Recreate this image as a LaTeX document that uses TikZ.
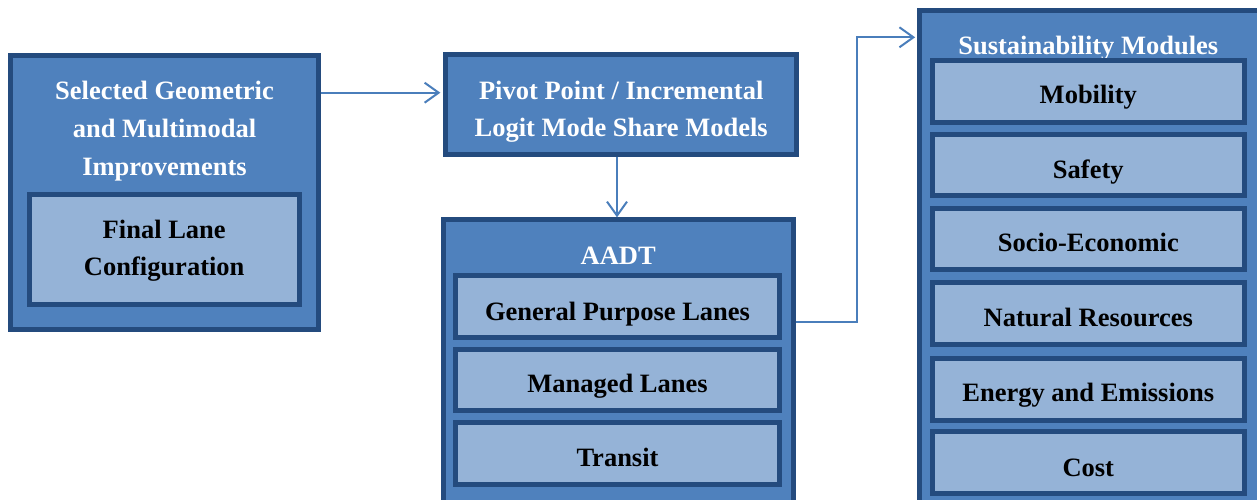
\documentclass[tikz,border=0pt]{standalone}
\usepackage{fontspec}
\setmainfont{Liberation Serif}
\usetikzlibrary{arrows.meta}
\definecolor{bdark}{HTML}{244B7E}
\definecolor{bmid}{HTML}{4F81BD}
\definecolor{blight}{HTML}{95B3D7}
\definecolor{barrow}{HTML}{4A7EBB}
\tikzset{
  outerbox/.style={draw=bdark, fill=bmid, line width=5pt, inner sep=0pt},
  innerbox/.style={draw=bdark, fill=blight, line width=5pt, inner sep=0pt},
  wtxt/.style={text=white, font=\fontsize{26.5}{37.5}\selectfont\bfseries, anchor=base, inner sep=0pt},
  ktxt/.style={text=black, font=\fontsize{26.5}{37.5}\selectfont\bfseries, anchor=base, inner sep=0pt},
  conn/.style={draw=barrow, line width=2pt, -{Straight Barb[length=14pt,width=20pt,line width=2pt]}},
  seg/.style={draw=barrow, line width=2pt}
}
\begin{document}
\begin{tikzpicture}[x=1pt,y=-1pt]
\useasboundingbox (0,0) rectangle (1257,500);
\clip (0,0) rectangle (1257,500);
\fill[white] (0,0) rectangle (1257,500);

% left box
\node[outerbox, minimum width=307.4pt, minimum height=273.7pt] (left) at (164.5,192.7) {};
\node[wtxt] (l1) at (164.5,100) {Selected Geometric};
\node[wtxt] (l2) at (164.5,137.5) {and Multimodal};
\node[wtxt] (l3) at (164.5,175) {Improvements};
\node[innerbox, minimum width=270pt, minimum height=110pt] (final) at (164.2,249.2) {};
\node[ktxt] (f1) at (164.2,238.3) {Final Lane};
\node[ktxt] (f2) at (164.2,275.3) {Configuration};

% pivot box
\node[outerbox, minimum width=350.7pt, minimum height=99.4pt] (pivot) at (621.2,104.5) {};
\node[wtxt] (p1) at (621.2,99.3) {Pivot Point / Incremental};
\node[wtxt] (p2) at (621.2,136.3) {Logit Mode Share Models};

% AADT box
\node[outerbox, minimum width=350pt, minimum height=282.7pt] (aadt) at (618.2,361.2) {};
\node[wtxt] (a0) at (618.2,264) {AADT};
\node[innerbox, minimum width=323.4pt, minimum height=61.7pt] (gpl) at (617.5,306.7) {};
\node[ktxt] (gplt) at (617.5,320) {General Purpose Lanes};
\node[innerbox, minimum width=323.4pt, minimum height=61.7pt] (ml) at (617.5,380) {};
\node[ktxt] (mlt) at (617.5,392.7) {Managed Lanes};
\node[innerbox, minimum width=323.4pt, minimum height=61.7pt] (tr) at (617.5,453.3) {};
\node[ktxt] (trt) at (617.5,466.7) {Transit};

% Sustainability box
\node[outerbox, minimum width=340.3pt, minimum height=496.7pt] (sust) at (1089.3,259.2) {};
\node[wtxt] (s0) at (1088.3,54.3) {Sustainability Modules};
\node[innerbox, minimum width=311.7pt, minimum height=61.5pt] (mob) at (1088.3,91.5) {};
\node[ktxt] (mobt) at (1088.3,103.5) {Mobility};
\node[innerbox, minimum width=311.7pt, minimum height=61.5pt] (saf) at (1088.3,165) {};
\node[ktxt] (saft) at (1088.3,178.3) {Safety};
\node[innerbox, minimum width=311.7pt, minimum height=61.5pt] (soc) at (1088.3,239) {};
\node[ktxt] (soct) at (1088.3,251.7) {Socio-Economic};
\node[innerbox, minimum width=311.7pt, minimum height=61.5pt] (nat) at (1088.3,313.7) {};
\node[ktxt] (natt) at (1088.3,326.7) {Natural Resources};
\node[innerbox, minimum width=311.7pt, minimum height=61.5pt] (ene) at (1088.3,389.3) {};
\node[ktxt] (enet) at (1088.3,401.7) {Energy and Emissions};
\node[innerbox, minimum width=311.7pt, minimum height=61.5pt] (cost) at (1088.3,462.5) {};
\node[ktxt] (costt) at (1088.3,476.7) {Cost};

% connectors
\coordinate (c1) at (320.7,92.7);
\draw[conn, shorten >=3pt] (c1 -| left.east) -- (c1 -| pivot.west);
\coordinate (c2) at (617,0);
\draw[conn] (c2 |- pivot.south) -- (c2 |- aadt.north);
\coordinate (c3) at (857,321.7);
\coordinate (c4) at (857,37.3);
\draw[conn, shorten >=1.5pt] (c3 -| aadt.east) -- (c3) -- (c4) -- (c4 -| sust.west);
\end{tikzpicture}
\end{document}
